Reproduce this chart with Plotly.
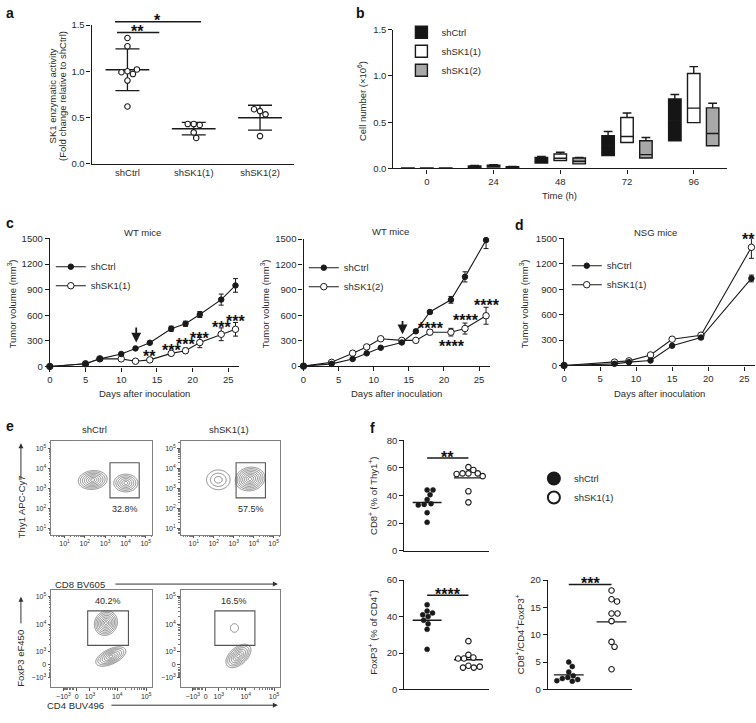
import numpy as np
import plotly.graph_objects as go

W, H = 756, 723
FONT = "Liberation Sans, Arial, Helvetica, sans-serif"
STARFONT = "Liberation Sans, Arial, sans-serif"
INK = "#1a1a1a"
TXT = "#2b2b2b"
FLOW = "#6a6a6a"

# ---------------- data ----------------
# panel a : SK1 enzymatic activity
a_groups = ["shCtrl", "shSK1(1)", "shSK1(2)"]
a_shctrl = [1.36, 1.27, 1.00, 0.97, 0.99, 1.02, 0.90, 0.62]
a_shsk1_1 = [0.43, 0.42, 0.43, 0.34, 0.28]
a_shsk1_2 = [0.57, 0.535, 0.59, 0.30]
a_sig_text = ["**", "*"]
a_sig_x0 = [-0.18, -0.21]
a_sig_x1 = [0.48, 1.11]
a_sig_y = [1.42, 1.535]

# panel b : cell number (x10^6), box summaries
b_times = ["0", "24", "48", "72", "96"]
b_names = ["shCtrl", "shSK1(1)", "shSK1(2)"]
b_shctrl_q1 = [0.002, 0.012, 0.06, 0.14, 0.30]
b_shctrl_med = [0.004, 0.020, 0.09, 0.25, 0.52]
b_shctrl_q3 = [0.006, 0.028, 0.12, 0.355, 0.75]
b_shctrl_hi = [0.007, 0.032, 0.13, 0.40, 0.80]
b_shsk1_1_q1 = [0.002, 0.015, 0.086, 0.28, 0.495]
b_shsk1_1_med = [0.004, 0.025, 0.11, 0.346, 0.652]
b_shsk1_1_q3 = [0.006, 0.035, 0.157, 0.55, 1.026]
b_shsk1_1_hi = [0.007, 0.040, 0.175, 0.60, 1.10]
b_shsk1_2_q1 = [0.002, 0.010, 0.05, 0.114, 0.246]
b_shsk1_2_med = [0.004, 0.015, 0.078, 0.15, 0.378]
b_shsk1_2_q3 = [0.006, 0.020, 0.114, 0.30, 0.655]
b_shsk1_2_hi = [0.007, 0.022, 0.12, 0.335, 0.705]

# panel c (left) : WT mice, shCtrl vs shSK1(1)
c1_days = [0, 5, 7, 10, 12, 14, 17, 19, 21, 24, 26]
c1_shctrl = [0, 31, 89, 146, 211, 277, 442, 500, 608, 783, 949]
c1_shctrl_err = [None, None, None, None, None, 10, 30, 30, 35, 65, 80]
c1_shsk1 = [0, 31, 89, 89, 61, 77, 153, 184, 280, 377, 435]
c1_shsk1_err = [None, None, None, None, None, None, 20, 30, 60, 75, 80]
c1_star_day = [14, 17, 19, 21, 24, 26]
c1_star_y = [158, 234, 300, 377, 500, 577]
c1_star_text = ["**", "***", "***", "***", "***", "***"]
c1_arrow_day = 12.1
c1_arrow_from, c1_arrow_to = 473, 280

# panel c (right) : WT mice, shCtrl vs shSK1(2)
c2_days = [0, 4, 7, 9, 11, 14, 16, 18, 21, 23, 26]
c2_shctrl = [0, 27, 85, 151, 217, 279, 411, 639, 783, 1054, 1488]
c2_shctrl_err = [None, None, None, None, None, 15, 15, 20, 40, 60, 100]
c2_shsk1_2 = [0, 45, 153, 227, 323, 304, 304, 401, 401, 444, 595]
c2_shsk1_2_err = [None, None, None, None, 15, 15, 20, 30, 45, 65, 100]
c2_star_day = [18.2, 21.1, 23.2, 26.2]
c2_star_y = [492, 279, 581, 763]
c2_star_text = ["****", "****", "****", "****"]
c2_arrow_day = 14.1
c2_arrow_from, c2_arrow_to = 550, 376

# panel d : NSG mice
d_days = [0, 7, 9, 12, 15, 19, 26]
d_shctrl = [0, 19, 39, 58, 233, 329, 1027]
d_shctrl_err = [None, None, None, None, None, 20, 40]
d_shsk1 = [0, 39, 54, 124, 310, 357, 1395]
d_shsk1_err = [None, None, None, None, None, 20, 130]
d_star_day = 25.6
d_star_y = 1535
d_star_text = "**"

# panel e : flow populations (display units: log10 top row, biexponential bottom row)
e_tl_cx = [2.39, 4.02]; e_tl_cy = [3.43, 3.28]; e_tl_sx = [0.71, 0.59]; e_tl_sy = [0.47, 0.44]; e_tl_rho = [0.1, 0.0]; e_tl_n = [7, 6]
e_tr_cx = [2.23, 3.82]; e_tr_cy = [3.44, 3.48]; e_tr_sx = [0.59, 0.74]; e_tr_sy = [0.49, 0.59]; e_tr_rho = [0.0, 0.1]; e_tr_n = [3, 8]
e_bl_cx = [1.01, 1.18]; e_bl_cy = [1.46, 0.29]; e_bl_sx = [0.40, 0.52]; e_bl_sy = [0.43, 0.34]; e_bl_rho = [0.1, 0.55]; e_bl_n = [8, 7]
e_br_cx = [1.01, 1.15]; e_br_cy = [1.29, 0.31]; e_br_sx = [0.14, 0.44]; e_br_sy = [0.15, 0.41]; e_br_rho = [0.0, 0.5]; e_br_n = [1, 7]
e_gate_x0 = [3.24, 3.12, 0.38, 0.32]
e_gate_x1 = [4.68, 4.59, 1.79, 1.73]
e_gate_y0 = [2.54, 2.54, 0.68, 0.68]
e_gate_y1 = [4.29, 4.29, 1.89, 1.89]
e_pct_text = ["32.8%", "57.5%", "40.2%", "16.5%"]
e_pct_x = [4.0, 3.86, 1.09, 1.01]
e_pct_y = [2.0, 2.0, 2.24, 2.24]
e_log_ticks = [1, 2, 3, 4, 5]
e_biex_ticks = [-1e3, 0, 1e3, 1e4, 1e5]
e_biex_ticktext = ["\u221210<sup>3</sup>", "0", "10<sup>3</sup>", "10<sup>4</sup>", "10<sup>5</sup>"]

# panel f
f1_shctrl = [44, 44, 40.5, 37, 34, 33.5, 33, 27.5, 20.5]
f1_shsk1 = [60.5, 58.5, 56, 56, 56, 55.5, 54, 43, 35]
f2_shctrl = [46.5, 43, 42, 41, 40, 38, 36, 33, 22]
f2_shsk1 = [26.5, 19, 17.5, 17, 17, 13, 12, 12, 12.5]
f3_shctrl = [5.0, 4.2, 3.2, 2.5, 2.2, 2.0, 1.8, 1.6, 1.5]
f3_shsk1 = [18.1, 16.5, 16.1, 13.9, 13.9, 12.5, 8.7, 7.8, 3.7]
f_sig_text = ["**", "****", "***"]
f_sig_y = [67.1, 51.7, 19.2]


# ---------------- helpers ----------------
def dx(x0, x1):
    return [x0 / W, x1 / W]


def dy(top, bottom):
    return [1 - bottom / H, 1 - top / H]


def swarm_offsets(vals, ppu_y, ppu_x, diam, step=0.5):
    placed, out = [], []
    cands = [0.0]
    for j in range(1, 80):
        cands += [j * step, -j * step]
    for v in vals:
        y = v * ppu_y
        pos = 0.0
        for c in cands:
            if all((c - px) ** 2 + (y - py) ** 2 >= diam ** 2 for px, py in placed):
                pos = c
                break
        placed.append((pos, y))
        out.append(pos / ppu_x)
    return out


def biex(v):
    return np.arcsinh(np.asarray(v, dtype=float) / (2 * 394.0)) / np.log(10)


def cone_field(gx, gy, cx, cy, sx, sy, rho, n):
    X, Y = np.meshgrid(gx, gy)
    Z = np.full(X.shape, -1.0)
    for a, b, s1, s2, r, k in zip(cx, cy, sx, sy, rho, n):
        u = (X - a) / s1
        v = (Y - b) / s2
        rr = np.sqrt(np.maximum(u * u - 2 * r * u * v + v * v, 0) / (1 - r * r))
        Z = np.maximum(Z, k * (1 - rr))
    return Z


fig = go.Figure()
ann = []
shapes = []


def txt(px, py, s, size=9.5, angle=0, xanchor="center", yanchor="middle", color=TXT):
    ann.append(dict(x=px / W, y=1 - py / H, xref="paper", yref="paper", text=s, showarrow=False,
                    font=dict(family=FONT, size=size, color=color), xanchor=xanchor,
                    yanchor=yanchor, textangle=angle))


def parrow(px, py, ax, ay, width=1.0, head=2, color="#333"):
    ann.append(dict(x=px / W, y=1 - py / H, xref="paper", yref="paper", ax=ax, ay=ay,
                    axref="pixel", ayref="pixel", text="", showarrow=True, arrowhead=head,
                    arrowsize=1, arrowwidth=width, arrowcolor=color, standoff=0,
                    font=dict(size=1)))


def star(x, y, s, xref, yref, size=16, yshift=-4):
    ann.append(dict(x=x, y=y, xref=xref, yref=yref, text="<b>" + s + "</b>", showarrow=False,
                    font=dict(family=STARFONT, size=size, color="#111111"), xanchor="center",
                    yanchor="middle", yshift=yshift))


# ---------------- panel a ----------------
a_range_y = [0, 1.5]
for i, vals in enumerate([a_shctrl, a_shsk1_1, a_shsk1_2]):
    m = float(np.mean(vals))
    sd = float(np.std(vals, ddof=1))
    fig.add_trace(go.Scatter(x=[i - 0.33, i + 0.33], y=[m, m], mode="lines",
                             line=dict(color=INK, width=1.4), xaxis="x", yaxis="y",
                             showlegend=False, hoverinfo="skip"))
    fig.add_trace(go.Scatter(x=[i], y=[m], mode="markers",
                             marker=dict(size=1, color="rgba(0,0,0,0)"),
                             error_y=dict(type="data", array=[sd], width=12, thickness=1.3, color=INK),
                             xaxis="x", yaxis="y", showlegend=False, hoverinfo="skip"))
    offs = swarm_offsets(vals, 94.0, 66.5, 6.0)
    fig.add_trace(go.Scatter(x=[i + o for o in offs], y=vals, mode="markers",
                             marker=dict(size=5.5, color="white", line=dict(color=INK, width=1.1)),
                             xaxis="x", yaxis="y", showlegend=False, hoverinfo="skip"))

for s, x0, x1, yv in zip(a_sig_text, a_sig_x0, a_sig_x1, a_sig_y):
    fr = (yv - a_range_y[0]) / (a_range_y[1] - a_range_y[0])
    ann.append(dict(x=x1, y=fr, xref="x", yref="y domain", ax=x0, ay=fr, axref="x",
                    ayref="y domain", text="", showarrow=True, arrowhead=0, arrowwidth=1.5,
                    arrowcolor=INK, standoff=0, startstandoff=0, font=dict(size=1)))
    star((x0 + x1) / 2, fr, s, "x", "y domain", yshift=1)

# ---------------- panel b ----------------
b_q1 = [b_shctrl_q1, b_shsk1_1_q1, b_shsk1_2_q1]
b_med = [b_shctrl_med, b_shsk1_1_med, b_shsk1_2_med]
b_q3 = [b_shctrl_q3, b_shsk1_1_q3, b_shsk1_2_q3]
b_hi = [b_shctrl_hi, b_shsk1_1_hi, b_shsk1_2_hi]
b_fill = ["#151515", "#ffffff", "#a8a8a8"]
for name, q1, med, q3, hi, fc in zip(b_names, b_q1, b_med, b_q3, b_hi, b_fill):
    fig.add_trace(go.Box(x=b_times, q1=q1, median=med, q3=q3, lowerfence=q1, upperfence=hi,
                         name=name, fillcolor=fc, line=dict(color=INK, width=1.4),
                         whiskerwidth=0.7, boxpoints=False, xaxis="x2", yaxis="y2",
                         legend="legend", hoverinfo="skip"))


# ---------------- panels c, d ----------------
def growth(x, y, err, name, filled, xa, ya, leg, rank):
    return go.Scatter(x=x, y=y, mode="lines+markers", name=name,
                      line=dict(color=INK, width=1.1),
                      marker=dict(symbol="circle", size=5.5 if filled else 6.5,
                                  color=INK if filled else "white", line=dict(color=INK, width=1)),
                      error_y=dict(type="data", array=err, width=2.5, thickness=1, color=INK),
                      xaxis=xa, yaxis=ya, legend=leg, legendrank=rank, cliponaxis=False,
                      hoverinfo="skip")


fig.add_trace(growth(c1_days, c1_shsk1, c1_shsk1_err, "shSK1(1)", False, "x3", "y3", "legend2", 2))
fig.add_trace(growth(c1_days, c1_shctrl, c1_shctrl_err, "shCtrl", True, "x3", "y3", "legend2", 1))
fig.add_trace(growth(c2_days, c2_shsk1_2, c2_shsk1_2_err, "shSK1(2)", False, "x4", "y4", "legend3", 2))
fig.add_trace(growth(c2_days, c2_shctrl, c2_shctrl_err, "shCtrl", True, "x4", "y4", "legend3", 1))
fig.add_trace(growth(d_days, d_shsk1, d_shsk1_err, "shSK1(1)", False, "x5", "y5", "legend4", 2))
fig.add_trace(growth(d_days, d_shctrl, d_shctrl_err, "shCtrl", True, "x5", "y5", "legend4", 1))

for dd, yv, s in zip(c1_star_day, c1_star_y, c1_star_text):
    star(dd, yv, s, "x3", "y3")
for dd, yv, s in zip(c2_star_day, c2_star_y, c2_star_text):
    star(dd, yv, s, "x4", "y4")
star(d_star_day, d_star_y / 1500.0, d_star_text, "x5", "y5 domain")

for xa, ya, day, y0, y1 in [("x3", "y3", c1_arrow_day, c1_arrow_from, c1_arrow_to),
                            ("x4", "y4", c2_arrow_day, c2_arrow_from, c2_arrow_to)]:
    ann.append(dict(x=day, y=y1, xref=xa, yref=ya, ax=day, ay=y0, axref=xa, ayref=ya, text="",
                    showarrow=True, arrowhead=2, arrowsize=1.1, arrowwidth=1.8, arrowcolor=INK,
                    standoff=0, font=dict(size=1)))

# ---------------- panel e ----------------
top_xr = [0.34, 5.33]
top_yr = [0.72, 5.37]
bot_xr = [-0.886, 2.62]
bot_yr = [-0.783, 2.61]
e_sets = [
    ("x6", "y6", top_xr, top_yr, e_tl_cx, e_tl_cy, e_tl_sx, e_tl_sy, e_tl_rho, e_tl_n),
    ("x7", "y7", top_xr, top_yr, e_tr_cx, e_tr_cy, e_tr_sx, e_tr_sy, e_tr_rho, e_tr_n),
    ("x8", "y8", bot_xr, bot_yr, e_bl_cx, e_bl_cy, e_bl_sx, e_bl_sy, e_bl_rho, e_bl_n),
    ("x9", "y9", bot_xr, bot_yr, e_br_cx, e_br_cy, e_br_sx, e_br_sy, e_br_rho, e_br_n),
]
for k, (xa, ya, xr, yr, cx, cy, sx, sy, rho, n) in enumerate(e_sets):
    gx = np.linspace(xr[0], xr[1], 260)
    gy = np.linspace(yr[0], yr[1], 260)
    Z = cone_field(gx, gy, cx, cy, sx, sy, rho, n)
    fig.add_trace(go.Contour(x=gx, y=gy, z=Z, xaxis=xa, yaxis=ya, autocontour=False,
                             contours=dict(start=0.001, end=max(n), size=1, coloring="lines"),
                             colorscale=[[0, FLOW], [1, FLOW]], showscale=False,
                             line=dict(width=0.8), hoverinfo="skip", showlegend=False))
    shapes.append(dict(type="rect", xref=xa, yref=ya, x0=e_gate_x0[k], x1=e_gate_x1[k],
                       y0=e_gate_y0[k], y1=e_gate_y1[k], line=dict(color="#555", width=1.1)))
    ann.append(dict(x=e_pct_x[k], y=e_pct_y[k], xref=xa, yref=ya, text=e_pct_text[k],
                    showarrow=False, font=dict(family=FONT, size=9, color=TXT)))

# ---------------- panel f ----------------
f_specs = [("x10", "y10", f1_shctrl, f1_shsk1, 1.4, 42.0, True),
           ("x11", "y11", f2_shctrl, f2_shsk1, 1.85, 42.0, False),
           ("x12", "y12", f3_shctrl, f3_shsk1, 5.55, 43.0, False)]
for j, (xa, ya, g0, g1, ppy, ppx, leg) in enumerate(f_specs):
    for i, vals in enumerate([g0, g1]):
        m = float(np.mean(vals))
        fig.add_trace(go.Scatter(x=[i - 0.35, i + 0.35], y=[m, m], mode="lines",
                                 line=dict(color=INK, width=1.4), xaxis=xa, yaxis=ya,
                                 showlegend=False, hoverinfo="skip"))
    for i, (vals, name) in enumerate([(g0, "shCtrl"), (g1, "shSK1(1)")]):
        offs = swarm_offsets(vals, ppy, ppx, 5.6)
        mk = (dict(size=5, color=INK, line=dict(color=INK, width=0.5)) if i == 0
              else dict(size=5.5, color="white", line=dict(color=INK, width=1.1)))
        fig.add_trace(go.Scatter(x=[i + o for o in offs], y=vals, mode="markers", name=name,
                                 marker=mk, xaxis=xa, yaxis=ya, showlegend=leg,
                                 legend="legend5", hoverinfo="skip", cliponaxis=False))
    shapes.append(dict(type="line", xref=xa, yref=ya, x0=0, x1=1, y0=f_sig_y[j], y1=f_sig_y[j],
                       line=dict(color=INK, width=1.5)))
    star(0.5, f_sig_y[j], f_sig_text[j], xa, ya, yshift=1)


# ---------------- axes ----------------
def lin_axis(domain, rng, anchor, **kw):
    d = dict(domain=domain, range=rng, anchor=anchor, showline=True, linecolor=INK,
             linewidth=1.3, ticks="outside", ticklen=4, tickwidth=1.2, tickcolor=INK,
             showgrid=False, zeroline=False, tickfont=dict(family=FONT, size=9.5, color=TXT),
             fixedrange=True)
    d.update(kw)
    return d


def flow_axis(domain, rng, anchor, tickvals, ticktext, minor_vals):
    return dict(domain=domain, range=rng, anchor=anchor, showline=True, mirror=True,
                linecolor="#808080", linewidth=1, ticks="outside", ticklen=2.5, tickwidth=0.8,
                tickcolor="#555", tickvals=tickvals, ticktext=ticktext,
                tickfont=dict(family=FONT, size=7, color=TXT), showgrid=False, zeroline=False,
                minor=dict(tickvals=minor_vals, ticks="outside", ticklen=1.5, tickwidth=0.6,
                           tickcolor="#777", showgrid=False), fixedrange=True)


log_text = ["10<sup>%d</sup>" % t for t in e_log_ticks]
log_minor = [float(np.log10(k * 10.0 ** e)) for e in range(0, 6) for k in range(2, 10)]
biex_vals = [float(v) for v in biex(e_biex_ticks)]
biex_minor = [float(biex(k * 10.0 ** e)) for e in (3, 4) for k in range(2, 10)]
biex_minor += [float(biex(-k * 100.0)) for k in range(2, 10)]

layout_axes = dict(
    xaxis=lin_axis(dx(89, 292), [-0.54, 2.51], "y", tickvals=[0, 1, 2], ticktext=a_groups, ticks=""),
    yaxis=lin_axis(dy(19.3, 160.3), a_range_y, "x", tickvals=[0, 0.5, 1.0, 1.5], tickformat=".1f"),
    xaxis2=lin_axis(dx(392, 727), [-0.5, 4.5], "y2", type="category"),
    yaxis2=lin_axis(dy(24, 165), [0, 1.5], "x2", tickvals=[0, 0.5, 1.0, 1.5], tickformat=".1f"),
    xaxis3=lin_axis(dx(47, 237), [0, 26.5], "y3", tickvals=[0, 5, 10, 15, 20, 25]),
    yaxis3=lin_axis(dy(236, 366), [0, 1500], "x3", tickvals=[0, 300, 600, 900, 1200, 1500]),
    xaxis4=lin_axis(dx(301.7, 488.5), [0, 26.5], "y4", tickvals=[0, 5, 10, 15, 20, 25]),
    yaxis4=lin_axis(dy(236.7, 365.7), [0, 1500], "x4", tickvals=[0, 300, 600, 900, 1200, 1500]),
    xaxis5=lin_axis(dx(563.3, 755), [0, 26.5], "y5", tickvals=[0, 5, 10, 15, 20, 25]),
    yaxis5=lin_axis(dy(236, 365), [0, 1500], "x5", tickvals=[0, 300, 600, 900, 1200, 1500]),
    xaxis6=flow_axis(dx(48.3, 150), top_xr, "y6", e_log_ticks, log_text, log_minor),
    yaxis6=flow_axis(dy(441.7, 536.7), top_yr, "x6", e_log_ticks, log_text, log_minor),
    xaxis7=flow_axis(dx(178.3, 278.3), top_xr, "y7", e_log_ticks, log_text, log_minor),
    yaxis7=flow_axis(dy(441.7, 536.7), top_yr, "x7", e_log_ticks, log_text, log_minor),
    xaxis8=flow_axis(dx(48.3, 150), bot_xr, "y8", biex_vals, e_biex_ticktext, biex_minor),
    yaxis8=flow_axis(dy(593.3, 691.7), bot_yr, "x8", biex_vals, e_biex_ticktext, biex_minor),
    xaxis9=flow_axis(dx(178.3, 278.3), bot_xr, "y9", biex_vals, e_biex_ticktext, biex_minor),
    yaxis9=flow_axis(dy(593.3, 691.7), bot_yr, "x9", biex_vals, e_biex_ticktext, biex_minor),
    xaxis10=lin_axis(dx(403, 488), [-0.55, 1.5], "y10", ticks="", showticklabels=False),
    yaxis10=lin_axis(dy(441, 553), [0, 80], "x10", tickvals=[0, 20, 40, 60, 80]),
    xaxis11=lin_axis(dx(403, 488), [-0.55, 1.5], "y11", ticks="", showticklabels=False),
    yaxis11=lin_axis(dy(583, 694), [0, 60], "x11", tickvals=[0, 20, 40, 60]),
    xaxis12=lin_axis(dx(547, 632), [-0.49, 1.49], "y12", ticks="", showticklabels=False),
    yaxis12=lin_axis(dy(583, 694), [0, 20], "x12", tickvals=[0, 5, 10, 15, 20]),
)

# ---------------- text ----------------
for letter, px, py in [("a", 1, 7), ("b", 352, 7.5), ("c", 1, 220), ("d", 512, 222),
                       ("e", 1, 426), ("f", 366, 429)]:
    txt(px, py, "<b>%s</b>" % letter, size=14, xanchor="left", color="#111")

txt(50, 91, "SK1 enzymatic activity", angle=-90)
txt(59.5, 91, "(Fold change relative to shCtrl)", angle=-90)
txt(360, 97, "Cell number (\u00d710<sup>6</sup>)", angle=-90)
txt(559, 192, "Time (h)")
txt(140, 230, "WT mice")
txt(389, 229, "WT mice")
txt(655, 230, "NSG mice")
for px in (9, 263, 523):
    txt(px, 302, "Tumor volume (mm<sup>3</sup>)", angle=-90)
for px in (142, 395, 659):
    txt(px, 393, "Days after inoculation")

# flow labels
txt(92, 430, "shCtrl")
txt(227, 430, "shSK1(1)")
txt(18, 508, "Thy1 APC-Cy7", angle=-90)
parrow(18, 444, 0, 38)
txt(77, 587, "CD8 BV605", xanchor="center")
parrow(276, 587, -164, 0)
txt(18, 662, "FoxP3 eF450", angle=-90)
parrow(18, 600, 0, 28)
txt(73, 710, "CD4 BUV496")
parrow(276, 710, -168, 0)

# f axis titles
txt(372, 498, "CD8<sup>+</sup> (% of Thy1<sup>+</sup>)", angle=-90)
txt(372, 636, "FoxP3<sup>+</sup> (% of CD4<sup>+</sup>)", angle=-90)
txt(519, 638, "CD8<sup>+</sup>/CD4<sup>+</sup>FoxP3<sup>+</sup>", angle=-90)

leg_common = dict(xanchor="left", yanchor="top", bgcolor="rgba(0,0,0,0)",
                  font=dict(family=FONT, size=9.5, color=TXT), tracegroupgap=0,
                  itemclick=False, itemdoubleclick=False)

fig.update_layout(
    width=W, height=H, autosize=False,
    margin=dict(l=0, r=0, t=0, b=0),
    paper_bgcolor="white", plot_bgcolor="rgba(0,0,0,0)",
    font=dict(family=FONT, size=9.5, color=TXT),
    boxmode="group", boxgap=0.15, boxgroupgap=0.34,
    legend=dict(x=400 / W, y=1 - 12 / H, itemsizing="trace", **leg_common),
    legend2=dict(x=48 / W, y=1 - 250 / H, itemsizing="trace", **leg_common),
    legend3=dict(x=302 / W, y=1 - 251 / H, itemsizing="trace", **leg_common),
    legend4=dict(x=566 / W, y=1 - 249 / H, itemsizing="trace", **leg_common),
    legend5=dict(x=533 / W, y=1 - 465 / H, itemsizing="constant", **leg_common),
    annotations=ann,
    shapes=shapes,
    **layout_axes,
)

fig.write_html("out.html", config={"displayModeBar": False},
               post_script="document.body.style.margin='0';document.body.style.overflow='hidden';")
